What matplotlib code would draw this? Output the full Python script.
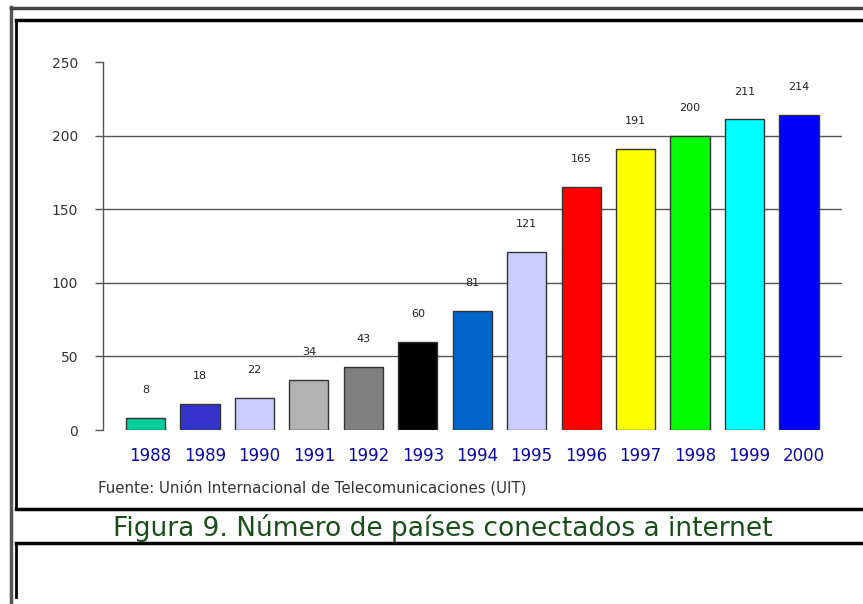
import matplotlib
matplotlib.use("Agg")
import matplotlib.pyplot as plt
from matplotlib.lines import Line2D

years = ["1988", "1989", "1990", "1991", "1992", "1993", "1994",
         "1995", "1996", "1997", "1998", "1999", "2000"]
values = [8, 18, 22, 34, 43, 60, 81, 121, 165, 191, 200, 211, 214]
colors = ["#00CC99", "#3333CC", "#CCCCFF", "#B2B2B2", "#808080", "#000000",
          "#0066CC", "#CCCCFF", "#FF0000", "#FFFF00", "#00FF00", "#00FFFF",
          "#0000FF"]
yticks = [0, 50, 100, 150, 200, 250]
source = "Fuente: Unión Internacional de Telecomunicaciones (UIT)"
caption = "Figura 9. Número de países conectados a internet"

W, H = 863, 604
fig = plt.figure(figsize=(W / 100, H / 100), dpi=100)
fig.patch.set_facecolor("white")

def fx(x):
    return x / W

def fy(y):
    return 1 - y / H

ax = fig.add_axes([fx(103), fy(430), fx(842) - fx(103), fy(62) - fy(430)])
x = list(range(len(years)))
ax.bar(x, values, width=0.72, color=colors, edgecolor="#333333",
       linewidth=1.0, zorder=3)
for xi, v in zip(x, values):
    ax.annotate(str(v), (xi, v), xytext=(0, 20), textcoords="offset points",
                ha="center", va="center", fontsize=8, color="#222222",
                zorder=5)

ax.set_xlim(-0.78, len(years) - 1 + 0.79)
ax.set_ylim(0, 250)
ax.set_yticks(yticks)
ax.set_yticklabels([str(t) for t in yticks], fontsize=10, color="#333333")
for t in yticks[1:-1]:
    ax.axhline(t, color="#555555", linewidth=1.0, zorder=1)
ax.tick_params(axis="y", length=6, width=1, color="#555555", pad=12)
ax.set_xticks(x)
ax.set_xticklabels(years, fontsize=12, color="#0A0AA0",
                   family="DejaVu Sans")
ax.tick_params(axis="x", length=0, pad=12)
for lbl in ax.get_xticklabels():
    lbl.set_transform(lbl.get_transform() +
                      matplotlib.transforms.ScaledTranslation(5 / 100, 0,
                                                              fig.dpi_scale_trans))
for s in ["top", "right", "bottom"]:
    ax.spines[s].set_visible(False)
ax.spines["left"].set_color("#555555")
ax.spines["left"].set_linewidth(1.0)

fig.text(fx(98), fy(488), source, fontsize=10.8, color="#333333",
         ha="left", va="center")
fig.text(fx(443), fy(528), caption, fontsize=19, color="#1A4D1A",
         ha="center", va="center")

lines = [
    # outer gray frame
    ((11, 11), (7, 604), "#555555", 2.5),
    ((11, 863), (8, 8), "#444444", 2.5),
    # chart box
    ((16, 16), (20, 509), "black", 2.0),
    ((16, 863), (20, 20), "black", 2.5),
    ((16, 863), (509, 509), "black", 2.5),
    # second box
    ((16, 863), (543, 543), "black", 2.5),
    ((16, 16), (543, 597), "black", 2.0),
]
for xs, ys, c, lw in lines:
    fig.add_artist(Line2D([fx(v) for v in xs], [fy(v) for v in ys],
                          color=c, linewidth=lw, transform=fig.transFigure))

fig.savefig("out.png", dpi=100)
